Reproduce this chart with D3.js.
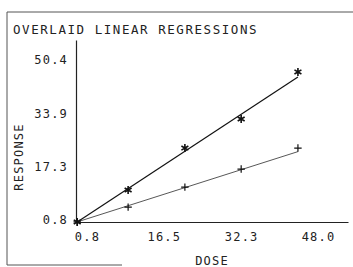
<!DOCTYPE html>
<html>
<head>
<meta charset="utf-8">
<script src="https://cdn.jsdelivr.net/npm/d3@7"></script>
<style>
  body { margin: 0; background: #fff; }
  svg text { font-family: "DejaVu Sans Mono", monospace; fill: #222; }
</style>
</head>
<body>
<div id="container"></div>
<script>
// data
const dose = [-1.2, 9.2, 20.8, 32.3, 43.9];
const responseStar = [0.2, 10.1, 23.1, 32.1, 46.7];
const responsePlus = [0.2, 4.8, 11.0, 16.6, 23.1];
// fitted lines, values at first and last dose
const fitDose = [-1.2, 43.9];
const fitStar = [0.2, 45.1];
const fitPlus = [0.2, 22.0];
// tick labels
const xTicks = [0.8, 16.5, 32.3, 48.0];
const yTicks = [0.8, 17.3, 33.9, 50.4];

const width = 353;
const height = 267;

const svg = d3.select('#container')
  .append('svg')
  .attr('width', width)
  .attr('height', height);

// frame (partial, like the scan)
svg.append('path')
  .attr('d', 'M353,12H7V265H122')
  .attr('fill', 'none')
  .attr('stroke', '#555')
  .attr('stroke-width', 1);

// title
svg.append('text')
  .attr('x', 13)
  .attr('y', 34)
  .attr('font-size', 12.5)
  .attr('letter-spacing', 1.55)
  .text('OVERLAID LINEAR REGRESSIONS');

// scales
const xScale = d3.scaleLinear()
  .domain([-1.45, 54.13])
  .range([76, 348]);

const yScale = d3.scaleLinear()
  .domain([0.18, 56.6])
  .range([222, 40]);

// axes
const xAxis = d3.axisBottom(xScale)
  .tickValues(xTicks)
  .tickFormat(d3.format('.1f'))
  .tickSizeInner(0)
  .tickSizeOuter(0)
  .tickPadding(10);

const yAxis = d3.axisLeft(yScale)
  .tickValues(yTicks)
  .tickFormat(d3.format('.1f'))
  .tickSizeInner(0)
  .tickSizeOuter(0)
  .tickPadding(8);

const gx = svg.append('g')
  .attr('transform', `translate(0, ${yScale.range()[0]})`)
  .call(xAxis);

const gy = svg.append('g')
  .attr('transform', `translate(${xScale.range()[0]}, 0)`)
  .call(yAxis);

[gx, gy].forEach(g => {
  g.select('.domain').attr('stroke', '#222').attr('stroke-width', 1.2);
  g.selectAll('text')
    .attr('font-family', '"DejaVu Sans Mono", monospace')
    .attr('font-size', 12)
    .attr('letter-spacing', 1.2)
    .attr('fill', '#222');
});

// axis titles
svg.append('text')
  .attr('x', 212)
  .attr('y', 265)
  .attr('text-anchor', 'middle')
  .attr('font-size', 12)
  .attr('letter-spacing', 1.2)
  .text('DOSE');

svg.append('text')
  .attr('transform', 'translate(23, 157) rotate(-90)')
  .attr('text-anchor', 'middle')
  .attr('font-size', 12)
  .attr('letter-spacing', 1.2)
  .text('RESPONSE');

// regression lines
const line = d3.line()
  .x(d => xScale(d[0]))
  .y(d => yScale(d[1]));

svg.append('path')
  .datum(fitDose.map((d, i) => [d, fitStar[i]]))
  .attr('d', line)
  .attr('fill', 'none')
  .attr('stroke', '#111')
  .attr('stroke-width', 1.2);

svg.append('path')
  .datum(fitDose.map((d, i) => [d, fitPlus[i]]))
  .attr('d', line)
  .attr('fill', 'none')
  .attr('stroke', '#444')
  .attr('stroke-width', 0.9);

// markers
const star = d3.symbol(d3.symbolAsterisk, 45);
const plus = d3.symbol(d3.symbolPlus, 20);

svg.append('g')
  .selectAll('path')
  .data(dose.map((d, i) => [d, responsePlus[i]]))
  .join('path')
  .attr('transform', d => `translate(${xScale(d[0])}, ${yScale(d[1])})`)
  .attr('d', plus)
  .attr('fill', 'none')
  .attr('stroke', '#111')
  .attr('stroke-width', 1.2);

svg.append('g')
  .selectAll('path')
  .data(dose.map((d, i) => [d, responseStar[i]]))
  .join('path')
  .attr('transform', d => `translate(${xScale(d[0])}, ${yScale(d[1])})`)
  .attr('d', star)
  .attr('fill', 'none')
  .attr('stroke', '#111')
  .attr('stroke-width', 1.6);
</script>
</body>
</html>
